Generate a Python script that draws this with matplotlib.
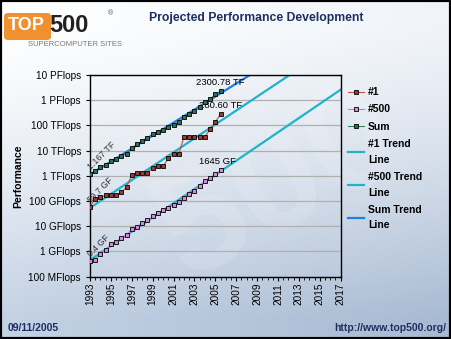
import numpy as np
import matplotlib
matplotlib.use("Agg")
import matplotlib.pyplot as plt
from matplotlib.patches import FancyBboxPatch, Rectangle

plt.rcParams["font.family"] = ["Liberation Sans", "DejaVu Sans"]

# list dates (June / November lists, one category every half year)
list_pos = [1993.0, 1993.5, 1994.0, 1994.5, 1995.0, 1995.5, 1996.0, 1996.5,
            1997.0, 1997.5, 1998.0, 1998.5, 1999.0, 1999.5, 2000.0, 2000.5,
            2001.0, 2001.5, 2002.0, 2002.5, 2003.0, 2003.5, 2004.0, 2004.5,
            2005.0, 2005.5]

# performance in GFlops
top1 = [59.7, 124.5, 143.4, 170.4, 170.4, 170.4, 220.4, 368.2,
        1068, 1338, 1338, 1338, 2121, 2379, 2379, 4938,
        7226, 7226, 35860, 35860, 35860, 35860, 35860, 70720,
        136800, 280600]
top500 = [0.42, 0.472, 0.822, 1.114, 1.955, 2.489, 3.306, 4.619,
          7.67, 9.513, 13.39, 17.1, 24.73, 33.08, 43.82, 55.1,
          67.78, 94.3, 134.3, 195.8, 245.1, 403.4, 624, 850.6,
          1166, 1645]
total = [1167, 1493, 2317, 2732, 3927, 4784, 5994, 7660,
         12540, 17640, 24660, 32850, 45350, 55050, 64810, 88040,
         108800, 134800, 222200, 293000, 374800, 528000, 813100, 1127000,
         1690000, 2300780]

ytick_vals = [1e-1, 1, 10, 100, 1e3, 1e4, 1e5, 1e6, 1e7]
ytick_labels = ["100 MFlops", "1 GFlops", "10 GFlops", "100 GFlops", "1 TFlops",
                "10 TFlops", "100 TFlops", "1 PFlops", "10 PFlops"]
xtick_years = list(range(1993, 2018, 2))

W, H = 451, 339
fig = plt.figure(figsize=(W / 100, H / 100), dpi=100)


def fx(px):
    return px / W


def fy(py):
    return 1 - py / H


# background gradient
bg = fig.add_axes([0, 0, 1, 1], zorder=-5)
gx, gy = np.meshgrid(np.linspace(0, 1, 200), np.linspace(0, 1, 150))
tl = np.array([255, 255, 255]) / 255
tr = np.array([240, 244, 249]) / 255
bl = np.array([196, 210, 228]) / 255
br = np.array([168, 186, 210]) / 255
wy = (np.clip(gy * 1.15 - 0.08, 0, 1) ** 1.3)[..., None]
img = (tl * (1 - gx[..., None]) + tr * gx[..., None]) * (1 - wy) + \
      (bl * (1 - gx[..., None]) + br * gx[..., None]) * wy
bg.imshow(img, aspect="auto", extent=[0, 1, 0, 1], origin="upper")
bg.text(0.62, 0.45, "500", fontsize=110, fontweight="bold", color="white",
        alpha=0.12, rotation=28, ha="center", va="center")
bg.add_patch(Rectangle((0, 0), 1, 1, fill=False, ec="black", lw=3,
                       transform=bg.transAxes))
bg.set_xlim(0, 1)
bg.set_ylim(0, 1)
bg.axis("off")

# logo
fig.patches.append(FancyBboxPatch((fx(4), fy(40)), fx(47) - fx(0), fy(13) - fy(40),
                                  boxstyle="round,pad=0,rounding_size=0.01",
                                  fc="#f09030", ec="none", transform=fig.transFigure))
fig.text(fx(8), fy(26), "TOP", fontsize=13, fontweight="bold", color="white",
         va="center", ha="left")
fig.text(fx(49), fy(26), "500", fontsize=17, fontweight="bold", color="#222222",
         va="center", ha="left")
fig.text(fx(108), fy(14), "®", fontsize=5, color="#555555", va="center")
fig.text(fx(28), fy(44), "SUPERCOMPUTER SITES", fontsize=5.5, color="#777777",
         va="center", ha="left")

fig.text(fx(256), fy(18), "Projected Performance Development", fontsize=8.8,
         fontweight="bold", color="#1c3060", ha="center", va="center")
fig.text(fx(8), fy(328), "09/11/2005", fontsize=7.5, fontweight="bold",
         color="#1c3060", ha="left", va="center")
fig.text(fx(446), fy(328), "http://www.top500.org/", fontsize=7.5, fontweight="bold",
         color="#1c3060", ha="right", va="center")

# main plot
ax = fig.add_axes([fx(90), fy(276.7), fx(340.7) - fx(90), fy(75) - fy(276.7)])
ax.set_facecolor("none")
ax.set_yscale("log")
ax.set_ylim(1e-1, 1e7)
ax.set_xlim(1993, 2017)

years = np.array(list_pos)
span = np.array([1993.0, 2017.0])
trend_specs = [(top1, "#1fb3c9", "#1 Trend\nLine"),
               (top500, "#1fb3c9", "#500 Trend\nLine"),
               (total, "#1f7fe6", "Sum Trend\nLine")]
trend_handles = []
for vals, col, lab in trend_specs:
    k, b = np.polyfit(years, np.log10(vals), 1)
    h, = ax.plot(span, 10 ** (k * span + b), color=col, lw=1.6, zorder=2, label=lab)
    trend_handles.append(h)

series_specs = [(top1, "#c05050", "#9a3a36", "#1"),
                (top500, "#d070e0", "#d488d8", "#500"),
                (total, "#3a8060", "#2e6e52", "Sum")]
data_handles = []
for vals, lc, fc, lab in series_specs:
    h, = ax.plot(years, vals, color=lc, lw=0.8, marker="s", ms=2.9, mfc=fc,
                 mec="black", mew=0.6, zorder=4, label=lab)
    data_handles.append(h)

ax.set_yticks(ytick_vals)
ax.set_yticklabels(ytick_labels)
ax.yaxis.set_minor_locator(matplotlib.ticker.NullLocator())
ax.set_xticks(xtick_years)
ax.set_xticklabels([str(y) for y in xtick_years], rotation=90)
ax.set_xticks(np.arange(1993, 2017.01, 0.5), minor=True)
ax.tick_params(axis="both", labelsize=7.2, length=3, width=0.8, color="black")
ax.tick_params(axis="x", which="minor", length=2.5, width=0.6)
ax.tick_params(axis="x", pad=1.5)
ax.grid(axis="y", which="major", color="#b0b0b0", lw=0.9)
ax.set_axisbelow(True)
for s in ax.spines.values():
    s.set_color("black")
    s.set_linewidth(1.0)
ax.set_ylabel("Performance", fontsize=7.5, fontweight="bold", labelpad=4)

# end-point labels
ax.annotate("2300.78 TF", (years[-1], total[-1]), xytext=(0, 3),
            textcoords="offset points", ha="center", va="bottom", fontsize=6.8)
ax.annotate("280.60 TF", (years[-1], top1[-1]), xytext=(0, 3),
            textcoords="offset points", ha="center", va="bottom", fontsize=6.8)
ax.annotate("1645 GF", (years[-1], top500[-1]), xytext=(-2, 3),
            textcoords="offset points", ha="center", va="bottom", fontsize=6.8)
# start-point labels
for vals, lab in [(total, "1.167 TF"), (top1, "59.7 GF"), (top500, "0.4 GF")]:
    ax.annotate(lab, (years[0], vals[0]), xytext=(2, 2), textcoords="offset points",
                ha="left", va="bottom", fontsize=6.3, rotation=45,
                rotation_mode="anchor", color="#333333")

leg = fig.legend(handles=data_handles + trend_handles, loc="upper left",
                 bbox_to_anchor=(fx(344), fy(83)), frameon=False,
                 prop={"size": 7.5, "weight": "bold"}, handlelength=1.5,
                 handletextpad=0.4, labelspacing=0.7, borderaxespad=0)
for t in leg.get_texts():
    t.set_linespacing(1.7)

fig.savefig("out.png", dpi=100)
